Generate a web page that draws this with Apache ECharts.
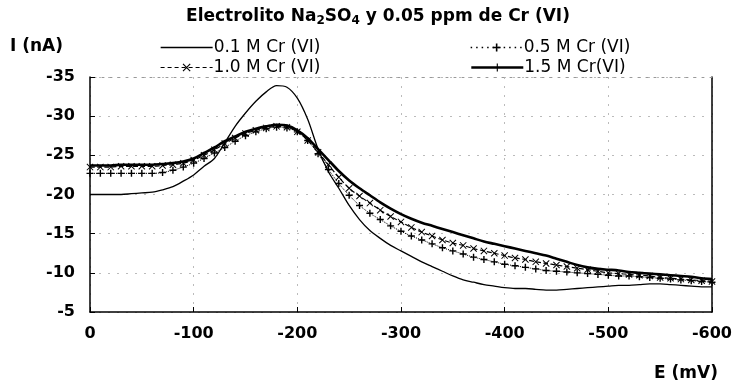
<!DOCTYPE html>
<html>
<head>
<meta charset="utf-8">
<title>Electrolito Na2SO4 y 0.05 ppm de Cr (VI)</title>
<script src="https://cdn.jsdelivr.net/npm/echarts@6/dist/echarts.min.js"></script>
<style>
  html, body { margin: 0; padding: 0; background: #fff; }
  #chart { width: 735px; height: 384px; }
</style>
</head>
<body>
<div id="chart"></div>
<script>
// Potential sweep (mV)
const potential = [0, -10, -20, -30, -40, -50, -60, -70, -80, -90,
  -100, -110, -120, -130, -140, -150, -160, -170, -180, -190,
  -200, -210, -220, -230, -240, -250, -260, -270, -280, -290,
  -300, -310, -320, -330, -340, -350, -360, -370, -380, -390,
  -400, -410, -420, -430, -440, -450, -460, -470, -480, -490,
  -500, -510, -520, -530, -540, -550, -560, -570, -580, -590, -600];

// Current (nA) for each concentration
const cr01 = [-20.0, -20.0, -20.0, -20.0, -20.1, -20.2, -20.3, -20.6, -21.0, -21.7,
  -22.5, -23.6, -24.6, -26.6, -28.7, -30.4, -31.9, -33.1, -33.9, -33.7,
  -32.3, -29.6, -25.8, -22.9, -20.8, -18.6, -16.8, -15.4, -14.4, -13.5,
  -12.8, -12.1, -11.4, -10.8, -10.2, -9.6, -9.1, -8.8, -8.5, -8.3,
  -8.1, -8.0, -8.0, -7.9, -7.8, -7.8, -7.9, -8.0, -8.1, -8.2,
  -8.3, -8.4, -8.4, -8.5, -8.6, -8.6, -8.5, -8.4, -8.3, -8.2, -8.2];

const cr05 = [-22.7, -22.7, -22.7, -22.7, -22.7, -22.7, -22.7, -22.8, -23.1, -23.5,
  -24.0, -24.6, -25.3, -26.0, -26.8, -27.5, -28.0, -28.4, -28.6, -28.5,
  -28.0, -26.9, -25.2, -23.2, -21.4, -19.9, -18.6, -17.6, -16.8, -16.0,
  -15.3, -14.7, -14.2, -13.7, -13.2, -12.8, -12.4, -12.0, -11.7, -11.4,
  -11.1, -10.9, -10.7, -10.5, -10.3, -10.2, -10.1, -10.0, -9.9, -9.8,
  -9.7, -9.6, -9.6, -9.5, -9.4, -9.3, -9.2, -9.1, -9.0, -8.9, -8.8];

const cr10 = [-23.5, -23.5, -23.5, -23.6, -23.6, -23.6, -23.6, -23.7, -23.8, -24.0,
  -24.4, -25.0, -25.7, -26.5, -27.2, -27.8, -28.2, -28.5, -28.7, -28.6,
  -28.0, -26.9, -25.4, -23.8, -22.2, -20.8, -19.8, -18.9, -18.0, -17.2,
  -16.5, -15.8, -15.2, -14.7, -14.2, -13.8, -13.5, -13.1, -12.8, -12.5,
  -12.2, -11.9, -11.7, -11.4, -11.2, -11.0, -10.8, -10.6, -10.4, -10.2,
  -10.0, -9.9, -9.8, -9.7, -9.6, -9.4, -9.3, -9.2, -9.1, -9.0, -8.9];

const cr15 = [-23.7, -23.7, -23.7, -23.8, -23.8, -23.8, -23.8, -23.9, -24.0, -24.2,
  -24.6, -25.3, -26.0, -26.8, -27.4, -28.0, -28.4, -28.7, -28.9, -28.8,
  -28.2, -27.2, -25.8, -24.4, -23.0, -21.8, -20.8, -19.9, -19.0, -18.2,
  -17.5, -16.9, -16.4, -16.0, -15.6, -15.2, -14.8, -14.4, -14.0, -13.7,
  -13.4, -13.1, -12.8, -12.5, -12.2, -11.8, -11.4, -11.0, -10.7, -10.5,
  -10.4, -10.3, -10.1, -10.0, -9.9, -9.8, -9.7, -9.6, -9.5, -9.3, -9.2];

const seriesNames = ['0.1 M Cr (VI)', '0.5 M Cr (VI)', '1.0 M Cr (VI)', '1.5 M Cr(VI)'];
const xTicks = { min: -600, max: 0, step: 100 };
const yTicks = { min: -35, max: -5, step: 5 };

const pairs = (ys) => potential.map((e, i) => [e, ys[i]]);

const FONT = 'DejaVu Sans';
const PLUS = 'path://M4,0h2v10h-2z M0,4h10v2h-10z';
const CROSS = 'path://M0,1L1,0L10,9L9,10Z M9,0L10,1L1,10L0,9Z';
// key marks: the zero-width vertical stroke only widens the box to a square
const FLAT = 'path://M5,0L5,10 M0,4.7h10v0.6h-10z';   // sits on the key line, unseen
const NOTCH = 'path://M0,5L10,5 M4.3,0h1.4v10h-1.4z';  // short upright tick

const chart = echarts.init(document.getElementById('chart'), null, { renderer: 'canvas' });

function makeLegend(name, left, top, keyLine) {
  const legend = {
    data: [name],
    left: left,
    top: top,
    orient: 'horizontal',
    itemWidth: 52,
    itemHeight: 10,
    itemGap: 0,
    padding: 0,
    textStyle: { fontFamily: FONT, fontSize: 17, color: '#000', padding: [0, 0, 0, -4] }
  };
  if (keyLine) legend.lineStyle = keyLine;
  return legend;
}

const option = {
  backgroundColor: '#fff',
  animation: false,
  title: [
    {
      text: '{b|Electrolito Na}{s|2}{b|SO}{s|4}{b| y 0.05 ppm de Cr (VI)}',
      left: 378, top: 7, padding: 0,
      textAlign: 'center',
      textStyle: {
        rich: {
          b: { fontFamily: FONT, fontWeight: 'bold', fontSize: 17, color: '#000', lineHeight: 20 },
          s: { fontFamily: FONT, fontWeight: 'bold', fontSize: 12, color: '#000', lineHeight: 12, verticalAlign: 'bottom' }
        }
      }
    },
    {
      text: 'I (nA)', left: 10, top: 38, padding: 0,
      textStyle: { fontFamily: FONT, fontWeight: 'bold', fontSize: 17, color: '#000' }
    },
    {
      text: 'E (mV)', right: 17, top: 365, padding: 0,
      textStyle: { fontFamily: FONT, fontWeight: 'bold', fontSize: 17, color: '#000' }
    }
  ],
  legend: [
    makeLegend(seriesNames[0], 160, 39, { width: 1.3, type: 'solid' }),
    makeLegend(seriesNames[2], 160, 59, { width: 1.2, type: [4, 3] }),
    makeLegend(seriesNames[1], 470, 39, { width: 1.3, type: [1.5, 4] }),
    makeLegend(seriesNames[3], 470, 59, { width: 2.6, type: 'solid' })
  ],
  grid: { left: 90, right: 20, top: 77, bottom: 72, containLabel: false },
  xAxis: [
    {
      type: 'value', position: 'bottom', inverse: true,
      min: xTicks.min, max: xTicks.max, interval: xTicks.step,
      axisLine: { show: true, onZero: false, lineStyle: { color: '#000', width: 1.5 } },
      axisTick: { show: true, inside: true, length: 5, lineStyle: { color: '#000', width: 1 } },
      axisLabel: { fontFamily: FONT, fontSize: 16, fontWeight: 'bold', color: '#000', margin: 14 },
      splitLine: { show: true, lineStyle: { color: '#bbb', width: 1, type: [2, 7] } }
    },
    {
      type: 'value', position: 'top', inverse: true,
      min: xTicks.min, max: xTicks.max, interval: xTicks.step,
      axisLine: { show: true, onZero: false, lineStyle: { color: '#999', width: 1, type: [2, 6] } },
      axisTick: { show: false }, axisLabel: { show: false }, splitLine: { show: false }
    }
  ],
  yAxis: [
    {
      type: 'value', position: 'left', inverse: true,
      min: yTicks.min, max: yTicks.max, interval: yTicks.step,
      axisLine: { show: true, onZero: false, lineStyle: { color: '#000', width: 1.5 } },
      axisTick: { show: true, inside: true, length: 5, lineStyle: { color: '#000', width: 1 } },
      axisLabel: { fontFamily: FONT, fontSize: 16, fontWeight: 'bold', color: '#000', margin: 15 },
      splitLine: { show: true, lineStyle: { color: '#bbb', width: 1, type: [2, 7] } }
    },
    {
      type: 'value', position: 'right', inverse: true,
      min: yTicks.min, max: yTicks.max, interval: yTicks.step,
      axisLine: { show: true, onZero: false, lineStyle: { color: '#000', width: 1.5 } },
      axisTick: { show: false }, axisLabel: { show: false }, splitLine: { show: false }
    }
  ],
  series: [
    {
      name: seriesNames[0], type: 'line', data: pairs(cr01),
      symbol: FLAT, showSymbol: false, smooth: 0.3, z: 5,
      lineStyle: { color: '#000', width: 1.3 },
      itemStyle: { color: '#000', borderWidth: 0, borderColor: 'transparent' }
    },
    {
      name: seriesNames[1], type: 'line', data: pairs(cr05),
      symbol: PLUS, symbolSize: 7, smooth: 0.3, z: 3,
      lineStyle: { color: '#000', width: 1, type: 'dotted' },
      itemStyle: { color: '#000', borderWidth: 0, borderColor: 'transparent' }
    },
    {
      name: seriesNames[2], type: 'line', data: pairs(cr10),
      symbol: CROSS, symbolSize: 7, smooth: 0.3, z: 3,
      lineStyle: { color: '#000', width: 1.2, type: 'dashed' },
      itemStyle: { color: '#000', borderWidth: 0, borderColor: 'transparent' }
    },
    {
      name: seriesNames[3], type: 'line', data: pairs(cr15),
      symbol: NOTCH, showSymbol: false, smooth: 0.3, z: 4,
      lineStyle: { color: '#000', width: 2.6 },
      itemStyle: { color: '#000', borderWidth: 0, borderColor: 'transparent' }
    }
  ]
};

chart.setOption(option);
</script>
</body>
</html>
